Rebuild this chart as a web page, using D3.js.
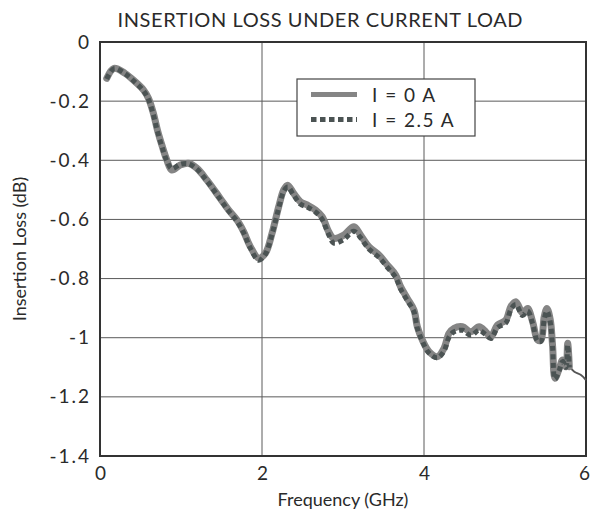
<!DOCTYPE html>
<html><head><meta charset="utf-8">
<script src="https://cdn.jsdelivr.net/npm/d3@7"></script>
<style>body{margin:0;background:#fff;} text{font-family:Lato,"Open Sans",sans-serif;fill:#2a2a2a;}</style>
</head><body>
<svg id="c" width="591" height="519"></svg>
<script>
const title = "INSERTION LOSS UNDER CURRENT LOAD";
const xLabel = "Frequency (GHz)";
const yLabel = "Insertion Loss (dB)";
const xTicks = [0, 2, 4, 6];
const yTicks = [0, -0.2, -0.4, -0.6, -0.8, -1, -1.2, -1.4];
const seriesNames = ["I = 0 A", "I = 2.5 A"];

const freq = [0.083,0.173,0.309,0.433,0.536,0.598,0.659,0.709,0.763,0.825,0.887,0.990,1.092,1.196,1.320,1.485,1.587,1.691,1.773,1.856,1.958,2.041,2.124,2.206,2.268,2.317,2.391,2.474,2.557,2.660,2.743,2.824,2.886,3.010,3.134,3.217,3.319,3.443,3.547,3.650,3.712,3.794,3.876,3.918,3.980,4.062,4.166,4.247,4.309,4.371,4.475,4.578,4.680,4.763,4.825,4.908,5.011,5.072,5.134,5.217,5.279,5.341,5.403,5.444,5.484,5.518,5.559,5.588,5.617,5.670,5.712,5.753,5.774,5.794];
const loss0A = [-0.123,-0.089,-0.106,-0.134,-0.162,-0.190,-0.241,-0.298,-0.348,-0.399,-0.433,-0.416,-0.410,-0.427,-0.467,-0.529,-0.568,-0.602,-0.641,-0.692,-0.731,-0.715,-0.647,-0.557,-0.500,-0.484,-0.512,-0.540,-0.551,-0.568,-0.591,-0.642,-0.664,-0.653,-0.625,-0.653,-0.692,-0.720,-0.754,-0.788,-0.828,-0.867,-0.906,-0.963,-1.008,-1.047,-1.064,-1.036,-0.985,-0.968,-0.963,-0.980,-0.963,-0.980,-0.997,-0.957,-0.940,-0.895,-0.878,-0.917,-0.901,-0.946,-1.008,-1.008,-0.929,-0.901,-0.940,-1.030,-1.137,-1.104,-1.075,-1.098,-1.019,-1.098];
const loss25A = [-0.125,-0.090,-0.107,-0.136,-0.165,-0.194,-0.246,-0.302,-0.352,-0.402,-0.428,-0.414,-0.412,-0.430,-0.470,-0.532,-0.571,-0.606,-0.645,-0.697,-0.738,-0.718,-0.650,-0.562,-0.505,-0.490,-0.518,-0.548,-0.558,-0.575,-0.600,-0.652,-0.680,-0.668,-0.640,-0.662,-0.700,-0.728,-0.762,-0.796,-0.836,-0.874,-0.912,-0.968,-1.012,-1.052,-1.068,-1.045,-0.998,-0.980,-0.975,-0.992,-0.975,-0.990,-1.003,-0.966,-0.950,-0.905,-0.888,-0.925,-0.910,-0.952,-1.012,-1.012,-0.938,-0.910,-0.948,-1.035,-1.140,-1.110,-1.080,-1.100,-1.025,-1.100];
const tailFreq = [5.794,5.856,5.938,6.0];
const tailLoss = [-1.098,-1.115,-1.126,-1.143];

const svg = d3.select("#c");
const L = 100, R = 586, T = 42, B = 456;
const x = d3.scaleLinear().domain([0, 6]).range([L, R]);
const y = d3.scaleLinear().domain([-1.4, 0]).range([B, T]);

// grid
svg.append("g").selectAll("line").data(yTicks).join("line")
  .attr("x1", L).attr("x2", R).attr("y1", d => y(d)).attr("y2", d => y(d))
  .attr("stroke", "#5a5a5a").attr("stroke-width", 1);
svg.append("g").selectAll("line").data(xTicks).join("line")
  .attr("y1", T).attr("y2", B).attr("x1", d => x(d)).attr("x2", d => x(d))
  .attr("stroke", "#5a5a5a").attr("stroke-width", 1);

// axes via d3
const xa = svg.append("g").attr("transform", `translate(0,${B})`)
  .call(d3.axisBottom(x).tickValues(xTicks).tickSize(0).tickPadding(7).tickFormat(d3.format("d")));
const ya = svg.append("g").attr("transform", `translate(${L},0)`)
  .call(d3.axisLeft(y).tickValues(yTicks).tickSize(0).tickPadding(9).tickFormat(d => d === 0 ? "0" : String(d)));
[xa, ya].forEach(g => { g.select(".domain").remove(); g.selectAll("text").attr("font-family", "Lato, sans-serif").attr("font-size", 19).attr("fill", "#2a2a2a"); });
ya.selectAll("text").attr("letter-spacing", 2);
xa.selectAll("text").attr("dy", "0.9em").attr("dx", d => d === 6 ? -2 : 0);

// border
svg.append("rect").attr("x", L).attr("y", T).attr("width", R - L).attr("height", B - T)
  .attr("fill", "none").attr("stroke", "#333").attr("stroke-width", 2);

const line = d3.line().curve(d3.curveCatmullRom.alpha(0.5)).x(d => x(d[0])).y(d => y(d[1]));
const d0 = freq.map((f, i) => [f, loss0A[i]]);
const d25 = freq.map((f, i) => [f, loss25A[i]]);
const dt = tailFreq.map((f, i) => [f, tailLoss[i]]);

svg.append("path").attr("d", line(dt)).attr("fill", "none").attr("stroke", "#555").attr("stroke-width", 2);
svg.append("path").attr("d", line(d0)).attr("fill", "none").attr("stroke", "#858585").attr("stroke-width", 7).attr("stroke-linejoin", "round").attr("stroke-linecap", "round");
svg.append("path").attr("d", line(d25)).attr("fill", "none").attr("stroke", "#4b5353").attr("stroke-width", 5).attr("stroke-dasharray", "5,3.5");

// legend
const lg = svg.append("g");
lg.append("rect").attr("x", 297).attr("y", 79).attr("width", 178).attr("height", 57)
  .attr("fill", "#fff").attr("stroke", "#444").attr("stroke-width", 1.2);
lg.append("line").attr("x1", 311).attr("x2", 357).attr("y1", 94.5).attr("y2", 94.5).attr("stroke", "#858585").attr("stroke-width", 5);
lg.append("line").attr("x1", 311).attr("x2", 357).attr("y1", 119.5).attr("y2", 119.5).attr("stroke", "#4b5353").attr("stroke-width", 5).attr("stroke-dasharray", "5.5,3.5");
lg.selectAll("text.lt").data(seriesNames).join("text").attr("class", "lt")
  .attr("x", 372).attr("y", (d, i) => 102 + i * 25).attr("font-size", 19).attr("letter-spacing", 1.5).text(d => d);

// titles
svg.append("text").attr("x", 320).attr("y", 27).attr("text-anchor", "middle").attr("font-size", 20)
  .attr("textLength", 405).attr("lengthAdjust", "spacing").text(title);
svg.append("text").attr("x", 343).attr("y", 506).attr("text-anchor", "middle").attr("font-size", 18).text(xLabel);
svg.append("text").attr("transform", "translate(26,249) rotate(-90)").attr("text-anchor", "middle").attr("font-size", 18).text(yLabel);
</script>
</body></html>
